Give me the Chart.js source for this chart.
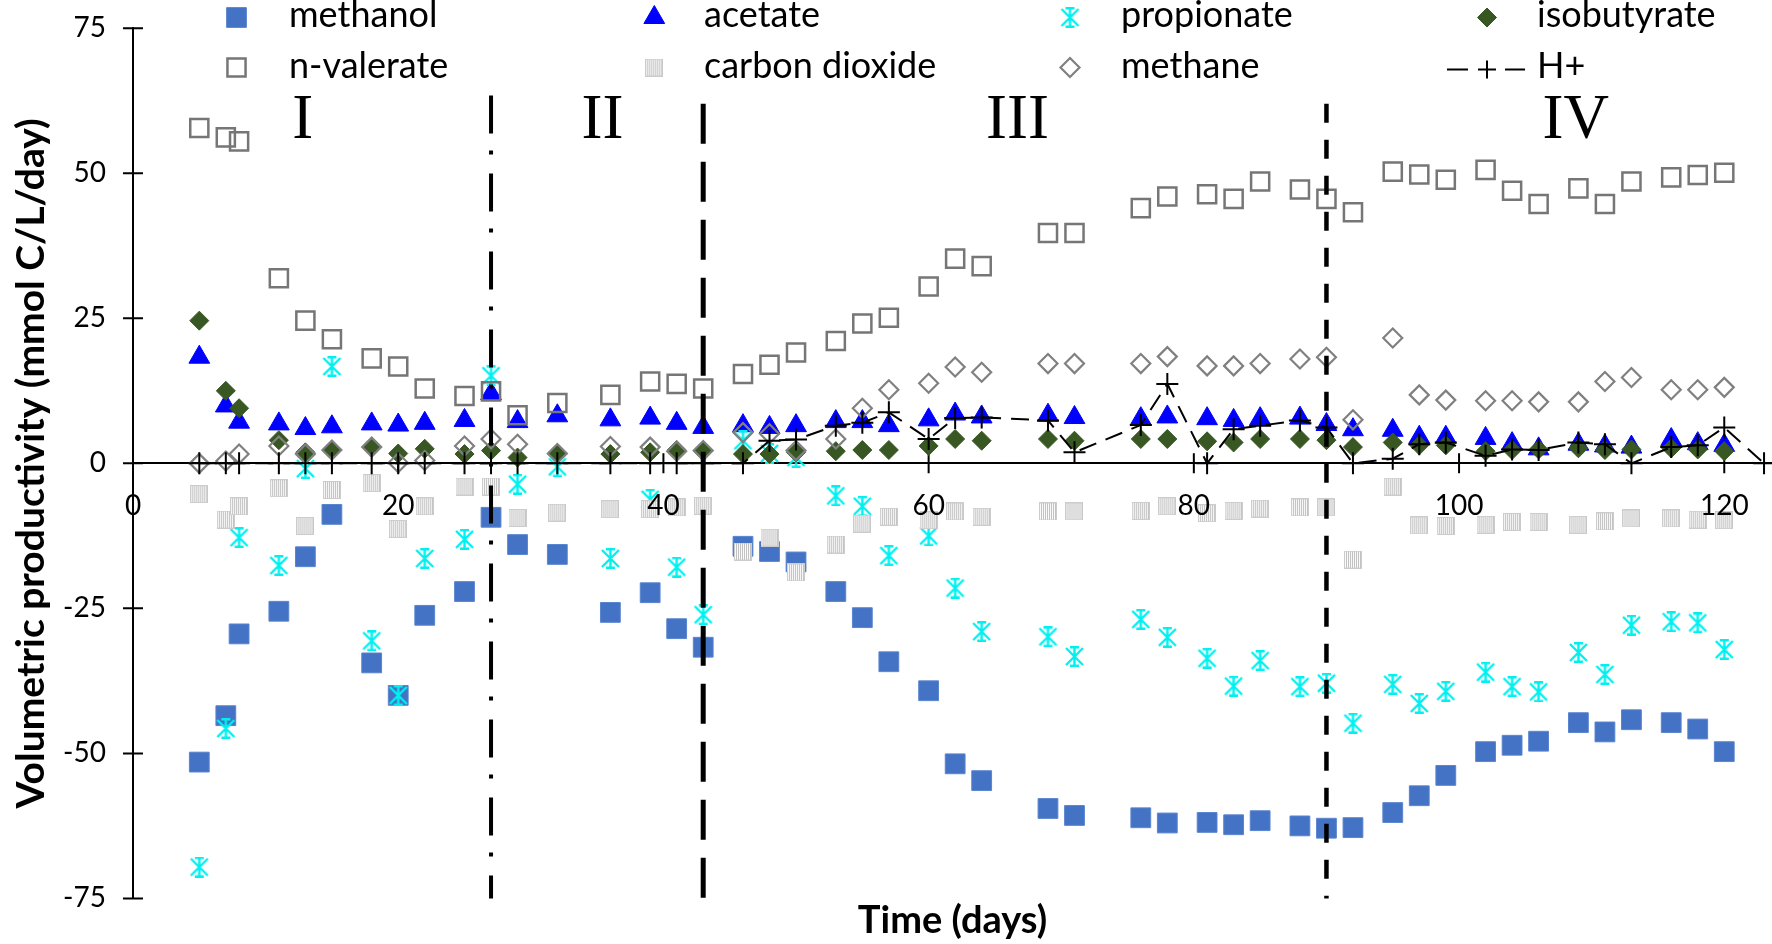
<!DOCTYPE html>
<html>
<head>
<meta charset="utf-8">
<script src="https://cdn.jsdelivr.net/npm/chart.js@4.4.1/dist/chart.umd.min.js"></script>
<style>
  html, body { margin: 0; padding: 0; background: #fff; }
</style>
</head>
<body>
<canvas id="chart" width="1772" height="944"></canvas>
<script>
// sampling days (all solid series share these)
const days = [5, 7, 8, 11, 13, 15, 18, 20, 22, 25, 27, 29, 32, 36, 39, 41, 43, 46, 48, 50, 53, 55, 57, 60, 62, 64, 69, 71, 76, 78, 81, 83, 85, 88, 90, 92, 95, 97, 99, 102, 104, 106, 109, 111, 113, 116, 118, 120];

const methanol = [-51.5, -43.5, -29.4, -25.5, -16.1, -8.8, -34.4, -40.0, -26.2, -22.1, -9.3, -14.0, -15.7, -25.7, -22.3, -28.5, -31.7, -14.3, -15.2, -17.0, -22.1, -26.6, -34.2, -39.2, -51.8, -54.7, -59.5, -60.7, -61.1, -62.0, -61.9, -62.3, -61.6, -62.5, -62.9, -62.8, -60.2, -57.3, -53.8, -49.7, -48.6, -47.9, -44.7, -46.3, -44.2, -44.7, -45.8, -49.7];
const acetate = [18.3, 9.9, 7.1, 6.8, 6.0, 6.3, 6.8, 6.6, 6.9, 7.4, 12.0, 7.2, 8.2, 7.5, 7.8, 6.9, 6.2, 6.5, 6.2, 6.5, 7.2, 7.2, 6.5, 7.5, 8.5, 8.0, 8.3, 7.9, 7.7, 8.0, 7.7, 7.4, 7.7, 7.8, 6.7, 5.8, 5.7, 4.5, 4.5, 4.3, 3.4, 2.5, 3.3, 3.0, 2.8, 4.1, 3.4, 3.1];
const propionate = [-69.6, -45.7, -12.8, -17.6, -0.9, 16.7, -30.6, -40.0, -16.4, -13.1, 15.1, -3.6, -0.6, -16.4, -6.2, -17.9, -26.1, 3.9, 1.7, 1.0, -5.6, -7.4, -15.9, -12.5, -21.5, -29.0, -29.9, -33.3, -26.9, -30.0, -33.6, -38.4, -34.0, -38.5, -37.9, -44.8, -38.1, -41.4, -39.3, -36.0, -38.5, -39.4, -32.6, -36.4, -27.9, -27.3, -27.5, -32.1];
const isobutyrate = [24.6, 12.5, 9.5, 4.0, 1.9, 2.2, 2.8, 1.7, 2.5, 1.6, 2.2, 1.0, 1.6, 1.6, 1.9, 2.3, 2.1, 1.6, 1.6, 1.9, 2.1, 2.3, 2.3, 3.0, 4.2, 3.9, 4.2, 3.9, 4.2, 4.2, 3.8, 3.6, 4.2, 4.2, 4.0, 2.8, 3.6, 3.1, 3.1, 2.1, 2.3, 2.4, 2.6, 2.3, 2.4, 2.6, 2.4, 2.1];
const nValerate = [57.8, 56.2, 55.5, 31.9, 24.6, 21.4, 18.1, 16.7, 12.9, 11.6, 12.4, 8.3, 10.4, 11.8, 14.1, 13.7, 12.9, 15.4, 17.0, 19.1, 21.1, 24.1, 25.1, 30.5, 35.3, 34.0, 39.7, 39.7, 44.0, 46.0, 46.4, 45.6, 48.6, 47.2, 45.6, 43.3, 50.3, 49.8, 48.9, 50.6, 47.0, 44.7, 47.4, 44.7, 48.6, 49.3, 49.7, 50.1];
const carbonDioxide = [-5.3, -9.7, -7.4, -4.3, -10.8, -4.6, -3.4, -11.3, -7.4, -4.0, -4.0, -9.4, -8.5, -7.9, -7.9, -7.6, -7.3, -15.2, -12.8, -18.8, -14.0, -10.4, -9.2, -9.8, -8.3, -9.2, -8.3, -8.3, -8.2, -7.4, -8.6, -8.2, -7.8, -7.6, -7.6, -16.6, -4.0, -10.7, -10.8, -10.6, -10.1, -10.1, -10.6, -10.0, -9.5, -9.5, -9.7, -9.8];
const methane = [0.0, 0.4, 1.6, 3.0, 1.6, 2.3, 2.8, 0.1, 0.5, 3.0, 4.2, 3.3, 1.7, 2.9, 2.8, 2.1, 2.2, 5.3, 5.1, 2.2, 4.2, 9.5, 12.7, 13.8, 16.6, 15.7, 17.2, 17.2, 17.2, 18.4, 16.8, 16.8, 17.2, 18.0, 18.3, 7.5, 21.6, 11.8, 10.9, 10.8, 10.8, 10.6, 10.6, 14.1, 14.8, 12.7, 12.7, 13.1];

// H+ has one extra sample at day 123
const hDays = [5, 7, 8, 11, 13, 15, 18, 20, 22, 25, 27, 29, 32, 36, 39, 41, 43, 46, 48, 50, 53, 55, 57, 60, 62, 64, 69, 71, 76, 78, 81, 83, 85, 88, 90, 92, 95, 97, 99, 102, 104, 106, 109, 111, 113, 116, 118, 120, 123];
const hPlus = [0, 0, 0, 0, 0, 0, 0, 0, 0, 0, 0, 0, 0, 0, 0, 0, 0, 0, 3.9, 4.1, 6.5, 7.0, 8.8, 4.2, 7.8, 7.9, 7.4, 1.9, 6.6, 13.7, 0, 5.9, 6.5, 7.4, 6.2, 0, 0.8, 3.3, 3.6, 1.3, 2.4, 2.3, 3.6, 3.3, 0, 2.8, 3.1, 6.2, 0];

// axis ticks
const xTickValues = [0, 20, 40, 60, 80, 100, 120];

// phase boundaries and labels
const phaseLineDays = [27, 43, 90];
const phaseLineTop = [63.4, 62, 62];
const phaseNames = ['I', 'II', 'III', 'IV'];
const phaseNameDays = [12.8, 35.4, 66.7, 108.8];
const phaseNameValue = 59;

const SANS = 'Lato, "Open Sans", sans-serif';

function pts(xs, ys) { return xs.map((d, i) => ({ x: d, y: ys[i] })); }

function makeStar(size, color) {
    const c = document.createElement('canvas');
    c.width = size; c.height = size;
    const g = c.getContext('2d');
    g.strokeStyle = color;
    g.lineWidth = 2.4;
    const m = size / 2, a = 2, b = size - 2;
    g.beginPath();
    g.moveTo(a, a); g.lineTo(b, b);
    g.moveTo(b, a); g.lineTo(a, b);
    g.moveTo(m, 0.5); g.lineTo(m, size - 0.5);
    g.moveTo(m - 4.5, 1.3); g.lineTo(m + 4.5, 1.3);
    g.moveTo(m - 4.5, size - 1.3); g.lineTo(m + 4.5, size - 1.3);
    g.stroke();
    return c;
}

function makeHatch(size) {
    const c = document.createElement('canvas');
    c.width = size; c.height = size;
    const g = c.getContext('2d');
    g.fillStyle = '#FAFAFA';
    g.fillRect(0, 0, size, size);
    g.strokeStyle = '#C2C2C2';
    g.lineWidth = 1;
    for (let x = 2.5; x < size - 1; x += 2) {
        g.beginPath(); g.moveTo(x, 1); g.lineTo(x, size - 1); g.stroke();
    }
    g.strokeStyle = '#CCCCCC';
    g.strokeRect(0.5, 0.5, size - 1, size - 1);
    return c;
}

const starImg = makeStar(21, '#00F0F0');
const hatchImg = makeHatch(18);

// Excel series order; later series sit on top
const series = [
    { label: 'methanol', data: pts(days, methanol), pointStyle: 'rect', pointRadius: 14, backgroundColor: '#4472C4', borderColor: '#5A85D0', borderWidth: 1 },
    { label: 'acetate', data: pts(days, acetate), pointStyle: 'triangle', pointRadius: 12, backgroundColor: '#0000FF', borderColor: '#0000FF', borderWidth: 1 },
    { label: 'propionate', data: pts(days, propionate), pointStyle: starImg, pointRadius: 10, backgroundColor: '#00F0F0', borderColor: '#00F0F0', borderWidth: 0 },
    { label: 'isobutyrate', data: pts(days, isobutyrate), pointStyle: 'rectRot', pointRadius: 9.5, backgroundColor: '#385723', borderColor: '#385723', borderWidth: 1 },
    { label: 'n-valerate', data: pts(days, nValerate), pointStyle: 'rect', pointRadius: 12.8, backgroundColor: 'rgba(0,0,0,0)', borderColor: '#767676', borderWidth: 2.5 },
    { label: 'carbon dioxide', data: pts(days, carbonDioxide), pointStyle: hatchImg, pointRadius: 9, backgroundColor: '#D0D0D0', borderColor: '#C4C4C4', borderWidth: 0 },
    { label: 'methane', data: pts(days, methane), pointStyle: 'rectRot', pointRadius: 9.5, backgroundColor: 'rgba(0,0,0,0)', borderColor: '#808080', borderWidth: 2.2 },
    { label: 'H+', data: pts(hDays, hPlus), pointStyle: 'cross', pointRadius: 11, backgroundColor: '#000', borderColor: '#000', borderWidth: 2, showLine: true, borderDash: [18, 10] }
];

const datasets = series.map((s, i) => Object.assign({
    order: series.length - i,
    clip: false,
    pointHoverRadius: s.pointRadius,
    pointBorderColor: s.borderColor,
    pointBackgroundColor: s.backgroundColor,
    pointBorderWidth: s.borderWidth
}, s));

const legendMarkX = [236.5, 654.3, 1070, 1487];
const legendTextX = [289, 704, 1121, 1537];
const legendMarkY = [17.5, 67.5];
const legendBaseY = [27, 78];

const overlay = {
    id: 'overlay',
    beforeDatasetsDraw(chart) {
        const ctx = chart.ctx, xs = chart.scales.x, ys = chart.scales.y;
        const x0 = xs.getPixelForValue(0), y0 = ys.getPixelForValue(0);
        ctx.save();
        ctx.strokeStyle = '#000';
        ctx.lineWidth = 2;
        ctx.beginPath();
        ys.ticks.forEach(t => {
            const py = ys.getPixelForValue(t.value);
            ctx.moveTo(x0 - 10, py); ctx.lineTo(x0 + 10, py);
        });
        xs.ticks.forEach(t => {
            const px = xs.getPixelForValue(t.value);
            ctx.moveTo(px, y0 - 10); ctx.lineTo(px, y0 + 10);
        });
        ctx.stroke();
        ctx.restore();
    },
    afterDatasetsDraw(chart) {
        const ctx = chart.ctx, xs = chart.scales.x, ys = chart.scales.y;
        const dashes = [[38, 17, 4, 19], [40, 18], [19, 17]];
        const widths = [4, 5, 4.5];
        ctx.save();
        ctx.strokeStyle = '#000';
        phaseLineDays.forEach((d, i) => {
            const px = xs.getPixelForValue(d);
            ctx.lineWidth = widths[i];
            ctx.setLineDash(dashes[i]);
            ctx.beginPath();
            ctx.moveTo(px, ys.getPixelForValue(phaseLineTop[i]));
            ctx.lineTo(px, ys.getPixelForValue(-75));
            ctx.stroke();
        });
        ctx.setLineDash([]);
        ctx.fillStyle = '#000';
        ctx.font = '63px "Liberation Serif", "Times New Roman", serif';
        ctx.textAlign = 'center';
        ctx.textBaseline = 'middle';
        phaseNames.forEach((n, i) => {
            ctx.fillText(n, xs.getPixelForValue(phaseNameDays[i]), ys.getPixelForValue(phaseNameValue));
        });
        ctx.restore();
    },
    afterDraw(chart) {
        const ctx = chart.ctx;
        ctx.save();
        chart.data.datasets.forEach((ds, i) => {
            const col = i % 4, row = Math.floor(i / 4);
            const mx = legendMarkX[col], my = legendMarkY[row];
            ctx.fillStyle = ds.backgroundColor;
            ctx.strokeStyle = ds.borderColor;
            ctx.lineWidth = ds.borderWidth;
            if (ds.label === 'H+') {
                ctx.lineWidth = 2;
                ctx.beginPath();
                ctx.moveTo(mx - 40, my + 2); ctx.lineTo(mx - 19, my + 2);
                ctx.moveTo(mx + 18, my + 2); ctx.lineTo(mx + 38, my + 2);
                ctx.moveTo(mx - 9, my + 2); ctx.lineTo(mx + 9, my + 2);
                ctx.moveTo(mx, my - 7); ctx.lineTo(mx, my + 11);
                ctx.stroke();
            } else {
                Chart.helpers.drawPoint(ctx, {
                    pointStyle: ds.pointStyle, radius: ds.pointRadius,
                    borderWidth: ds.borderWidth, rotation: 0
                }, mx, my);
            }
            ctx.fillStyle = '#000';
            ctx.font = '36px ' + SANS;
            ctx.textAlign = 'left';
            ctx.textBaseline = 'alphabetic';
            ctx.fillText(ds.label, legendTextX[col], legendBaseY[row]);
        });
        ctx.restore();
    }
};

new Chart(document.getElementById('chart'), {
    type: 'scatter',
    data: { datasets },
    options: {
        responsive: false,
        animation: false,
        devicePixelRatio: 1,
        layout: { autoPadding: false, padding: { top: 28.3, left: 0, right: 0, bottom: 0 } },
        scales: {
            x: {
                type: 'linear',
                position: { y: 0 },
                min: 0,
                max: 123.6,
                afterBuildTicks: s => { s.ticks = xTickValues.map(v => ({ value: v })); },
                ticks: { padding: 0, z: 1, color: '#000', font: { family: SANS, size: 28 } },
                grid: { drawOnChartArea: false, drawTicks: true, tickLength: 26, tickColor: 'rgba(0,0,0,0)' },
                border: { color: '#000', width: 2 }
            },
            y: {
                position: 'left',
                min: -75,
                max: 75,
                afterFit: s => { s.width = 133; },
                ticks: { stepSize: 25, padding: 0, color: '#000', font: { family: SANS, size: 28 } },
                grid: { drawOnChartArea: false, drawTicks: true, tickLength: 27, tickColor: 'rgba(0,0,0,0)' },
                border: { color: '#000', width: 2 },
                title: {
                    display: true,
                    text: 'Volumetric productivity (mmol C/L/day)',
                    color: '#000',
                    padding: { top: 8, bottom: 0 },
                    font: { family: SANS, size: 39, weight: 'bold' }
                }
            }
        },
        plugins: {
            legend: { display: false },
            tooltip: { enabled: false },
            title: {
                display: true,
                text: 'Time (days)',
                position: 'bottom',
                fullSize: false,
                color: '#000',
                padding: 0,
                font: { family: SANS, size: 38, weight: 'bold' }
            }
        }
    },
    plugins: [overlay]
});
</script>
</body>
</html>
